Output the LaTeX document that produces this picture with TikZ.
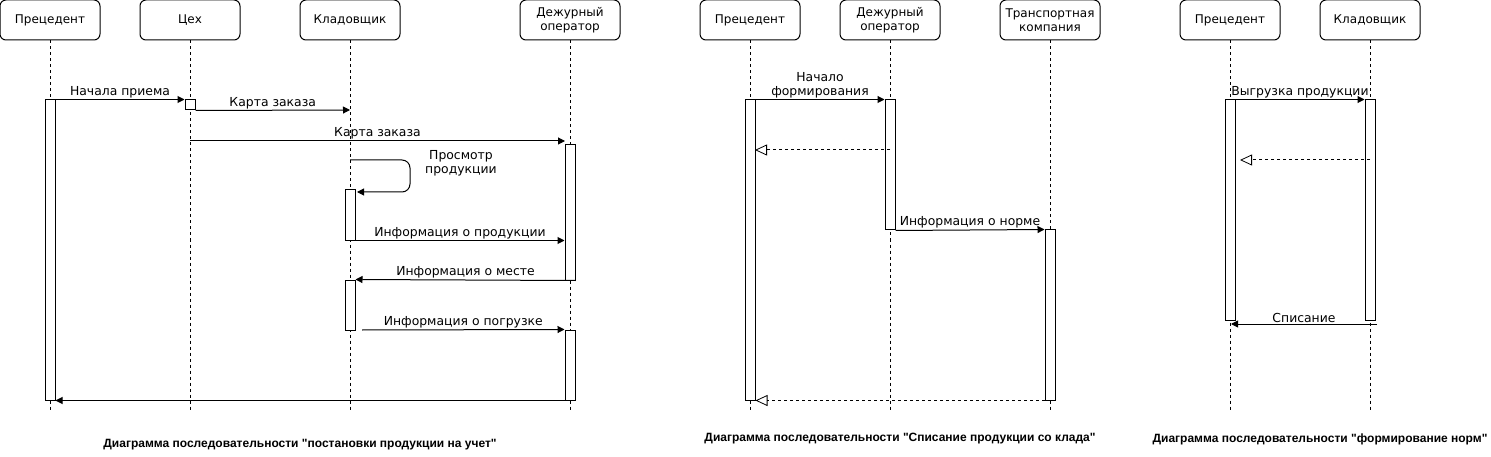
\documentclass[tikz,border=0pt]{standalone}
\usepackage{fontspec}
\setmainfont{DejaVu Sans}
\newfontfamily\capfont{Liberation Sans}[Ligatures=TeXOff]
\usetikzlibrary{arrows.meta}
\begin{document}
\begin{tikzpicture}[x=1pt,y=-1pt,
 actor/.style={draw, rounded corners=6pt, minimum width=100pt, minimum height=40pt, align=center, font=\fontsize{12}{14}\selectfont, inner sep=0pt, line width=1pt},
 life/.style={dash pattern=on 3pt off 3pt, line width=0.8pt},
 bar/.style={draw, fill=white, minimum width=10pt, inner sep=0pt, line width=1pt},
 msg/.style={line width=1pt, -{Triangle[length=7pt,width=7pt]}},
 ret/.style={line width=1pt, dash pattern=on 3pt off 3pt, -{Triangle[open,length=12pt,width=11pt,line width=0.8pt]}},
 lbl/.style={font=\fontsize{12.4}{14}\selectfont, inner sep=1pt, align=center},
 captxt/.style={font=\capfont\bfseries\fontsize{12}{14}\selectfont, inner sep=0pt}
]
\useasboundingbox (0,0) rectangle (1491,457);

% ---------------- Diagram 1 ----------------
\node[actor] (p1) at (50,20) {Прецедент};
\node[actor] (c1) at (190,20) {Цех};
\node[actor] (k1) at (350,20) {Кладовщик};
\node[actor] (d1) at (570,20) {Дежурный\\оператор};
\coordinate (p1e) at (50,410);
\coordinate (c1e) at (190,410);
\coordinate (k1e) at (350,410);
\coordinate (d1e) at (570,410);
\draw[life] (p1) -- (p1e);
\draw[life] (c1) -- (c1e);
\draw[life] (k1) -- (k1e);
\draw[life] (d1) -- (d1e);

\node[bar, minimum height=300pt] (p1a) at (50,250) {};
\node[bar, minimum height=10pt] (c1a) at (190,105) {};
\node[bar, minimum height=50pt] (k1a) at (350,215) {};
\node[bar, minimum height=50pt] (k1b) at (350,305) {};
\node[bar, minimum height=135pt] (d1a) at (570,212.5) {};
\node[bar, minimum height=70pt] (d1b) at (570,365) {};

\draw[msg] (p1a.north east) -- (c1a.north west) node[lbl, midway, above] {Начала приема};
\coordinate (m2e) at (350,110);
\draw[msg] (c1a.south east) -- (m2e) node[lbl, midway, above] {Карта заказа};
\coordinate (m3s) at (190,141);
\coordinate (m3e) at (565,141);
\draw[msg] (m3s) -- (m3e) node[lbl, midway, above] {Карта заказа};
\coordinate (s1s) at (350,160);
\coordinate (s1e) at (357,192);
\draw[msg, rounded corners=8pt] (s1s) -- (410,160) -- (410,192) -- (s1e);
\node[lbl] (s1l) at (461,163) {Просмотр\\продукции};
\draw[msg] (k1a.south east) -- (k1a.south east -| d1a.west) node[lbl, midway, above] {Информация о продукции};
\draw[msg] (d1a.south east) -- (k1b.north east) node[lbl, midway, above] {Информация о месте};
\coordinate (m7s) at (362,330);
\draw[msg] (m7s) -- (d1b.north west) node[lbl, midway, above] {Информация о погрузке};
\draw[msg] (d1b.south east) -- (p1a.south east);

\node[captxt] (cap1) at (300,445) {Диаграмма последовательности "постановки продукции на учет"};

% ---------------- Diagram 2 ----------------
\node[actor] (p2) at (750,20) {Прецедент};
\node[actor] (d2) at (890,20) {Дежурный\\оператор};
\node[actor] (t2) at (1050,20) {Транспортная\\компания};
\coordinate (p2e) at (750,410);
\coordinate (d2e) at (890,410);
\coordinate (t2e) at (1050,410);
\draw[life] (p2) -- (p2e);
\draw[life] (d2) -- (d2e);
\draw[life] (t2) -- (t2e);

\node[bar, minimum height=300pt] (p2a) at (750,250) {};
\node[bar, minimum height=130pt] (d2a) at (890,165) {};
\node[bar, minimum height=170pt] (t2a) at (1050,315) {};

\draw[msg] (p2a.north east) -- (d2a.north west) node[lbl, midway, above] {Начало\\формирования};
\coordinate (r1s) at (890,150);
\coordinate (r1e) at (755,150);
\draw[ret] (r1s) -- (r1e);
\draw[msg] (d2a.south east) -- (t2a.north west) node[lbl, midway, above] {Информация о норме};
\draw[ret] (t2a.south west) -- (p2a.south east);

\node[captxt] (cap2) at (900,439) {Диаграмма последовательности "Списание продукции со клада"};

% ---------------- Diagram 3 ----------------
\node[actor] (p3) at (1230,20) {Прецедент};
\node[actor] (k3) at (1370,20) {Кладовщик};
\coordinate (p3e) at (1230,410);
\coordinate (k3e) at (1370,410);
\draw[life] (p3) -- (p3e);
\draw[life] (k3) -- (k3e);

\node[bar, minimum height=220pt] (p3a) at (1230,210) {};
\node[bar, minimum height=220pt] (k3a) at (1370,210) {};

\draw[msg] (p3a.north east) -- (k3a.north west) node[lbl, midway, above] {Выгрузка продукции};
\coordinate (r3s) at (1370,160);
\coordinate (r3e) at (1240,160);
\draw[ret] (r3s) -- (r3e);
\coordinate (m9s) at (1377,324);
\coordinate (m9e) at (1231,324);
\draw[msg] (m9s) -- (m9e) node[lbl, midway, above] {Списание};

\node[captxt] (cap3) at (1320,439) {Диаграмма последовательности "формирование норм"};
\end{tikzpicture}
\end{document}
